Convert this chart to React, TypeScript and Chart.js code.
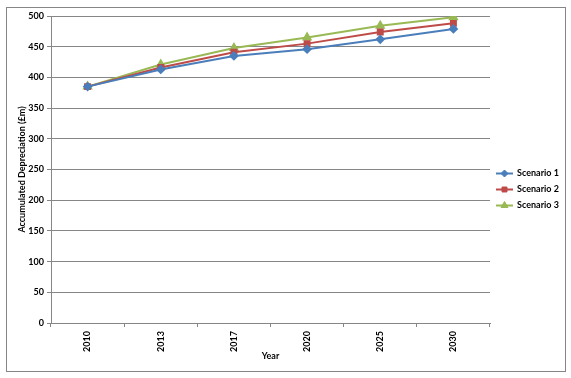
import React, { useEffect, useRef } from "react";
import { Chart, registerables } from "chart.js";

Chart.register(...registerables);

const years = ["2010", "2013", "2017", "2020", "2025", "2030"];
const scenario1 = [385, 413, 435, 446, 462, 479];
const scenario2 = [385, 416, 441, 455, 474, 488];
const scenario3 = [385, 421, 448, 465, 484, 498];
const seriesNames = ["Scenario 1", "Scenario 2", "Scenario 3"];
const yTicks = [0, 50, 100, 150, 200, 250, 300, 350, 400, 450, 500];

const FONT = "Lato, 'Liberation Sans', sans-serif";
const GRID = "#868686";
const colors = ["#4A7EBB", "#BE4B48", "#98B954"];
const markers = ["rectRot", "rect", "triangle"];
const markerSizes = [3.5, 3.5, 4];

function drawMarker(ctx: CanvasRenderingContext2D, style: string, r: number, x: number, y: number) {
  ctx.beginPath();
  if (style === "rectRot") {
    ctx.moveTo(x, y - r);
    ctx.lineTo(x + r, y);
    ctx.lineTo(x, y + r);
    ctx.lineTo(x - r, y);
  } else if (style === "rect") {
    const s = r * Math.SQRT1_2;
    ctx.rect(x - s, y - s, 2 * s, 2 * s);
  } else {
    ctx.moveTo(x, y - r);
    ctx.lineTo(x + r * 0.866, y + r * 0.5);
    ctx.lineTo(x - r * 0.866, y + r * 0.5);
  }
  ctx.closePath();
  ctx.fill();
  ctx.stroke();
}

const framePlugin = {
  id: "frame",
  afterDraw(chart: any) {
    const ctx = chart.ctx;
    ctx.save();
    ctx.strokeStyle = GRID;
    ctx.lineWidth = 1;
    ctx.strokeRect(6.5, 7.5, 559, 364);
    const x0 = 496;
    const rows = [173, 189, 205];
    chart.data.datasets.forEach((ds: any, i: number) => {
      const y = rows[i];
      ctx.strokeStyle = ds.borderColor;
      ctx.fillStyle = ds.backgroundColor;
      ctx.lineWidth = 2;
      ctx.beginPath();
      ctx.moveTo(x0, y + 0.5);
      ctx.lineTo(x0 + 17, y + 0.5);
      ctx.stroke();
      ctx.lineWidth = 1;
      drawMarker(ctx, ds.pointStyle, ds.pointRadius, x0 + 8.5, y + 0.5);
      ctx.fillStyle = "#000";
      ctx.font = `bold 9px ${FONT}`;
      ctx.textBaseline = "middle";
      ctx.textAlign = "left";
      ctx.fillText(ds.label, x0 + 21, y + 0.5);
    });
    ctx.restore();
  },
};

export default function App() {
  const ref = useRef<HTMLCanvasElement>(null);
  useEffect(() => {
    const data = [scenario1, scenario2, scenario3];
    const chart = new Chart(ref.current!, {
      type: "line",
      data: {
        labels: years,
        datasets: data.map((d, i) => ({
          label: seriesNames[i],
          data: d,
          borderColor: colors[i],
          backgroundColor: colors[i],
          borderWidth: 2,
          pointStyle: markers[i] as any,
          pointRadius: markerSizes[i],
          pointBorderColor: colors[i],
          pointBackgroundColor: colors[i],
          tension: 0,
        })),
      },
      options: {
        responsive: false,
        animation: false,
        devicePixelRatio: 1,
        layout: { padding: { top: 16, right: 81, left: 0, bottom: 0 } },
        plugins: { legend: { display: false }, tooltip: { enabled: false } },
        scales: {
          x: {
            offset: true,
            grid: {
              offset: true,
              drawOnChartArea: false,
              drawTicks: true,
              tickLength: 4,
              color: GRID,
            },
            border: { display: true, color: GRID, width: 1 },
            ticks: {
              color: "#000",
              font: { family: FONT, size: 9, weight: "bold" },
              minRotation: 90,
              maxRotation: 90,
              padding: 4,
              autoSkip: false,
            },
            title: {
              display: true,
              text: "Year",
              color: "#000",
              font: { family: FONT, size: 9, weight: "bold" },
              padding: { top: 0, bottom: 17 },
            },
            afterFit(scale: any) {
              scale.height = 55;
            },
          },
          y: {
            min: 0,
            max: 500,
            afterBuildTicks(scale: any) {
              scale.ticks = yTicks.map((v) => ({ value: v }));
            },
            grid: { color: GRID, tickLength: 4, lineWidth: 1 },
            border: { display: true, color: GRID, width: 1 },
            ticks: {
              color: "#000",
              font: { family: FONT, size: 9, weight: "bold" },
              padding: 3,
            },
            title: {
              display: true,
              text: "Accumulated Depreciation (£m)",
              color: "#000",
              font: { family: FONT, size: 9, weight: "bold" },
              padding: { top: 17, bottom: 0 },
            },
            afterFit(scale: any) {
              scale.width = 51;
            },
          },
        },
      },
      plugins: [framePlugin],
    });
    return () => chart.destroy();
  }, []);
  return (
    <div style={{ position: "fixed", left: 0, top: 0, width: 571, height: 378, background: "#fff" }}>
      <canvas ref={ref} width={571} height={378} />
    </div>
  );
}
